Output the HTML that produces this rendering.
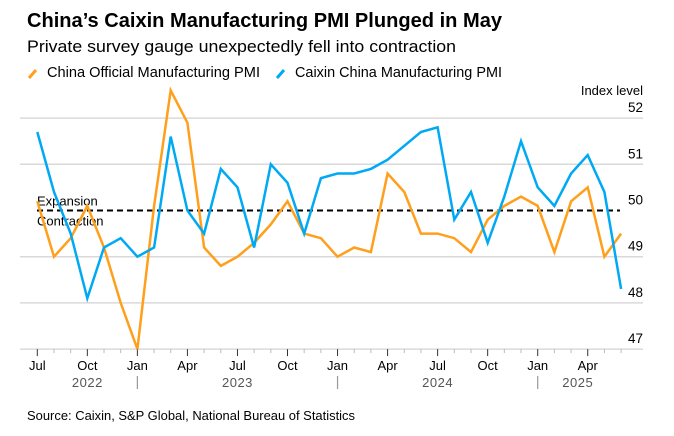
<!DOCTYPE html>
<html><head><meta charset="utf-8"><style>
body{margin:0;background:#fff;width:674px;height:431px;overflow:hidden;font-family:"Liberation Sans",Arial,sans-serif}
</style></head><body>
<svg width="674" height="431" xmlns="http://www.w3.org/2000/svg" font-family="Liberation Sans, Arial, sans-serif">
<text x="27" y="27" font-size="20" font-weight="bold" fill="#000" textLength="475" lengthAdjust="spacingAndGlyphs">China’s Caixin Manufacturing PMI Plunged in May</text>
<text x="27" y="52" font-size="17" fill="#000" textLength="429" lengthAdjust="spacingAndGlyphs">Private survey gauge unexpectedly fell into contraction</text>
<g>
<line x1="29" y1="78" x2="36" y2="70" stroke="#ff9f1c" stroke-width="3"/>
<text x="47" y="77" font-size="14.5" fill="#000" textLength="213" lengthAdjust="spacingAndGlyphs">China Official Manufacturing PMI</text>
<line x1="277" y1="78" x2="284" y2="70" stroke="#00a9f4" stroke-width="3"/>
<text x="295" y="77" font-size="14.5" fill="#000" textLength="207" lengthAdjust="spacingAndGlyphs">Caixin China Manufacturing PMI</text>
</g>
<text x="643" y="95" font-size="13" text-anchor="end" fill="#000">Index level</text>
<g id="grid"></g>
<g id="xaxis"></g>
<g id="lines"></g>
<text x="27" y="420" font-size="13" fill="#000" textLength="328" lengthAdjust="spacingAndGlyphs">Source: Caixin, S&amp;P Global, National Bureau of Statistics</text>
</svg>
<script>
const months = ["Jun22","Jul22","Aug22","Sep22","Oct22","Nov22","Dec22","Jan23","Feb23","Mar23","Apr23","May23","Jun23","Jul23","Aug23","Sep23","Oct23","Nov23","Dec23","Jan24","Feb24","Mar24","Apr24","May24","Jun24","Jul24","Aug24","Sep24","Oct24","Nov24","Dec24","Jan25","Feb25","Mar25","Apr25","May25"];
const caixin = [51.7,50.4,49.5,48.1,49.2,49.4,49.0,49.2,51.6,50.0,49.5,50.9,50.5,49.2,51.0,50.6,49.5,50.7,50.8,50.8,50.9,51.1,51.4,51.7,51.8,49.8,50.4,49.3,50.3,51.5,50.5,50.1,50.8,51.2,50.4,48.3];
const official = [50.2,49.0,49.4,50.1,49.2,48.0,47.0,50.1,52.6,51.9,49.2,48.8,49.0,49.3,49.7,50.2,49.5,49.4,49.0,49.2,49.1,50.8,50.4,49.5,49.5,49.4,49.1,49.8,50.1,50.3,50.1,49.1,50.2,50.5,49.0,49.5];
const yTicks = [47,48,49,50,51,52];
const tickLabels = ["Jul","Oct","Jan","Apr","Jul","Oct","Jan","Apr","Jul","Oct","Jan","Apr"];
const years = ["2022","2023","2024","2025"];

const NS="http://www.w3.org/2000/svg";
const x0=37.3, step=16.68;
const xs = i => x0 + i*step;
const ys = v => 210.5 - (v-50)*46.2;
function mk(tag, attrs, parent){const e=document.createElementNS(NS,tag);for(const k in attrs)e.setAttribute(k,attrs[k]);parent.appendChild(e);return e;}
const grid=document.getElementById('grid'), xa=document.getElementById('xaxis'), ln=document.getElementById('lines');

yTicks.forEach(t=>{
  if(t!==50){
    const g=mk('line',{x1:20,x2:643,y1:ys(t),y2:ys(t),stroke:'#d9d9d9','stroke-width':1.5},grid);
    
    
  }
  const tx=mk('text',{x:643,y:ys(t)-6,'font-size':13.5,'text-anchor':'end',fill:'#000'},grid);
  tx.textContent=t;
  
  
});
const d=mk('line',{x1:37,x2:620,y1:ys(50),y2:ys(50),stroke:'#000','stroke-width':2,'stroke-dasharray':'6,4'},grid);


const ex=mk('text',{x:37,y:ys(50)-5,'font-size':13,fill:'#000'},grid);ex.textContent='Expansion';


const ct=mk('text',{x:37,y:ys(50)+15,'font-size':13,fill:'#000'},grid);ct.textContent='Contraction';



const base=ys(47);
for(let i=0;i<months.length;i++){
  const major=(i%3===0);
  const t=mk('line',{x1:xs(i),x2:xs(i),y1:base,y2:base+(major?7:4),stroke:major?'#333':'#bbb','stroke-width':1},xa);
  
  
}
tickLabels.forEach((l,k)=>{
  const tx=mk('text',{x:xs(k*3),y:370,'font-size':13,'text-anchor':'middle',fill:'#000'},xa);
  tx.textContent=l;
  
  
});
const yearX=[xs(3),xs(12),xs(24),xs(32.4)];
years.forEach((y,k)=>{
  const tx=mk('text',{x:yearX[k],y:387,'font-size':13,'text-anchor':'middle',fill:'#555','letter-spacing':'0.5'},xa);
  tx.textContent=y;
  
  
});
[6,18,30].forEach(i=>{
  const s=mk('line',{x1:xs(i),x2:xs(i),y1:376,y2:389,stroke:'#999','stroke-width':1.2},xa);
  
  
});

function path(vals){return vals.map((v,i)=>(i?'L':'M')+xs(i).toFixed(1)+' '+ys(v).toFixed(1)).join(' ');}
const po=mk('path',{d:path(official),fill:'none',stroke:'#ff9f1c','stroke-width':2.5,'stroke-linejoin':'miter'},ln);


const pc=mk('path',{d:path(caixin),fill:'none',stroke:'#00a9f4','stroke-width':2.5,'stroke-linejoin':'miter'},ln);


</script>
</body></html>
